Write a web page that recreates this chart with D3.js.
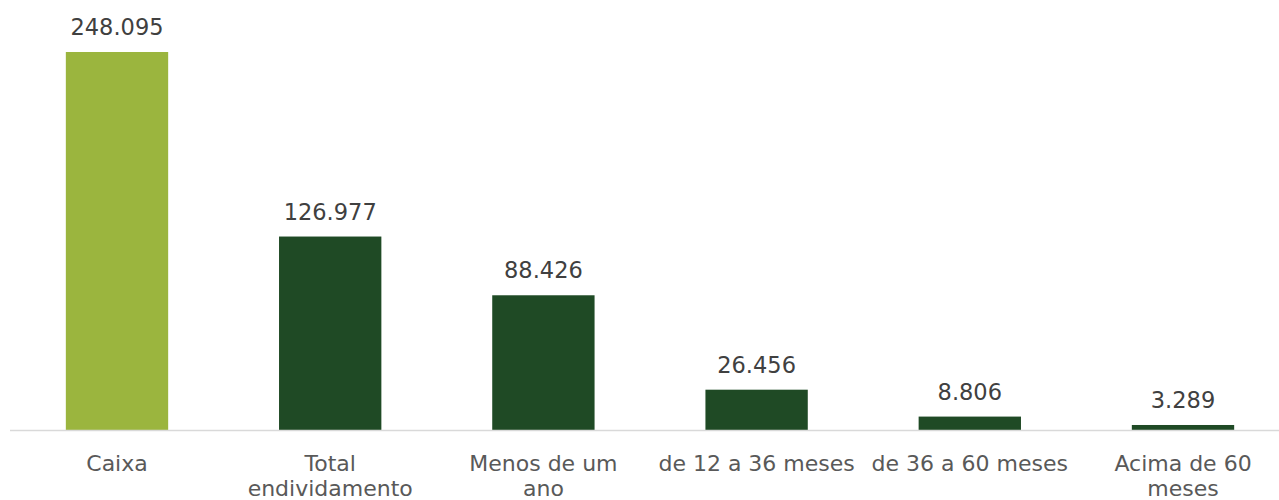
<!DOCTYPE html>
<html>
<head>
<meta charset="utf-8">
<script src="https://cdn.jsdelivr.net/npm/d3@7"></script>
<style>
  body { margin: 0; background: #fff; }
  text { font-family: "DejaVu Sans", sans-serif; }
</style>
</head>
<body>
<div id="chart"></div>
<script>
var categories = ["Caixa", "Total\nendividamento", "Menos de um\nano", "de 12 a 36 meses", "de 36 a 60 meses", "Acima de 60\nmeses"];
var values = [248095, 126977, 88426, 26456, 8806, 3289];
var valueLabels = ["248.095", "126.977", "88.426", "26.456", "8.806", "3.289"];

var svgWidth = 1279;
var svgHeight = 500;
var baseline = 430;

var svg = d3.select("#chart")
  .append("svg")
  .attr("width", svgWidth)
  .attr("height", svgHeight);

var x = d3.scaleBand()
  .domain(categories)
  .range([10.4, 1289.6])
  .paddingInner(0.52)
  .paddingOuter(0.26);

var y = d3.scaleLinear()
  .domain([0, 248095])
  .range([baseline, 52]);

// bars
svg.selectAll("rect.bar")
  .data(values)
  .enter().append("rect")
  .attr("class", "bar")
  .attr("x", (d, i) => x(categories[i]))
  .attr("width", x.bandwidth())
  .attr("y", d => y(d))
  .attr("height", d => baseline - y(d))
  .attr("fill", (d, i) => i === 0 ? "#9bb53e" : "#1f4a25");

// value labels
svg.selectAll("text.val")
  .data(values)
  .enter().append("text")
  .attr("class", "val")
  .attr("x", (d, i) => x(categories[i]) + x.bandwidth() / 2)
  .attr("y", d => y(d) - 17)
  .attr("text-anchor", "middle")
  .style("font-size", "22.5px")
  .style("fill", "#404040")
  .text((d, i) => valueLabels[i]);

// axis line
svg.append("line")
  .attr("x1", 10).attr("x2", 1279)
  .attr("y1", baseline + 0.5).attr("y2", baseline + 0.5)
  .attr("stroke", "#d9d9d9")
  .attr("stroke-width", 1.5);

// category labels
var cat = svg.selectAll("text.cat")
  .data(categories)
  .enter().append("text")
  .attr("class", "cat")
  .attr("text-anchor", "middle")
  .attr("transform", d => `translate(${x(d) + x.bandwidth() / 2}, 471)`)
  .style("font-size", "22px")
  .style("fill", "#595959");

cat.selectAll("tspan")
  .data(d => d.split("\n"))
  .enter().append("tspan")
  .attr("x", 0)
  .attr("y", (d, i) => i * 25)
  .text(d => d);
</script>
</body>
</html>
